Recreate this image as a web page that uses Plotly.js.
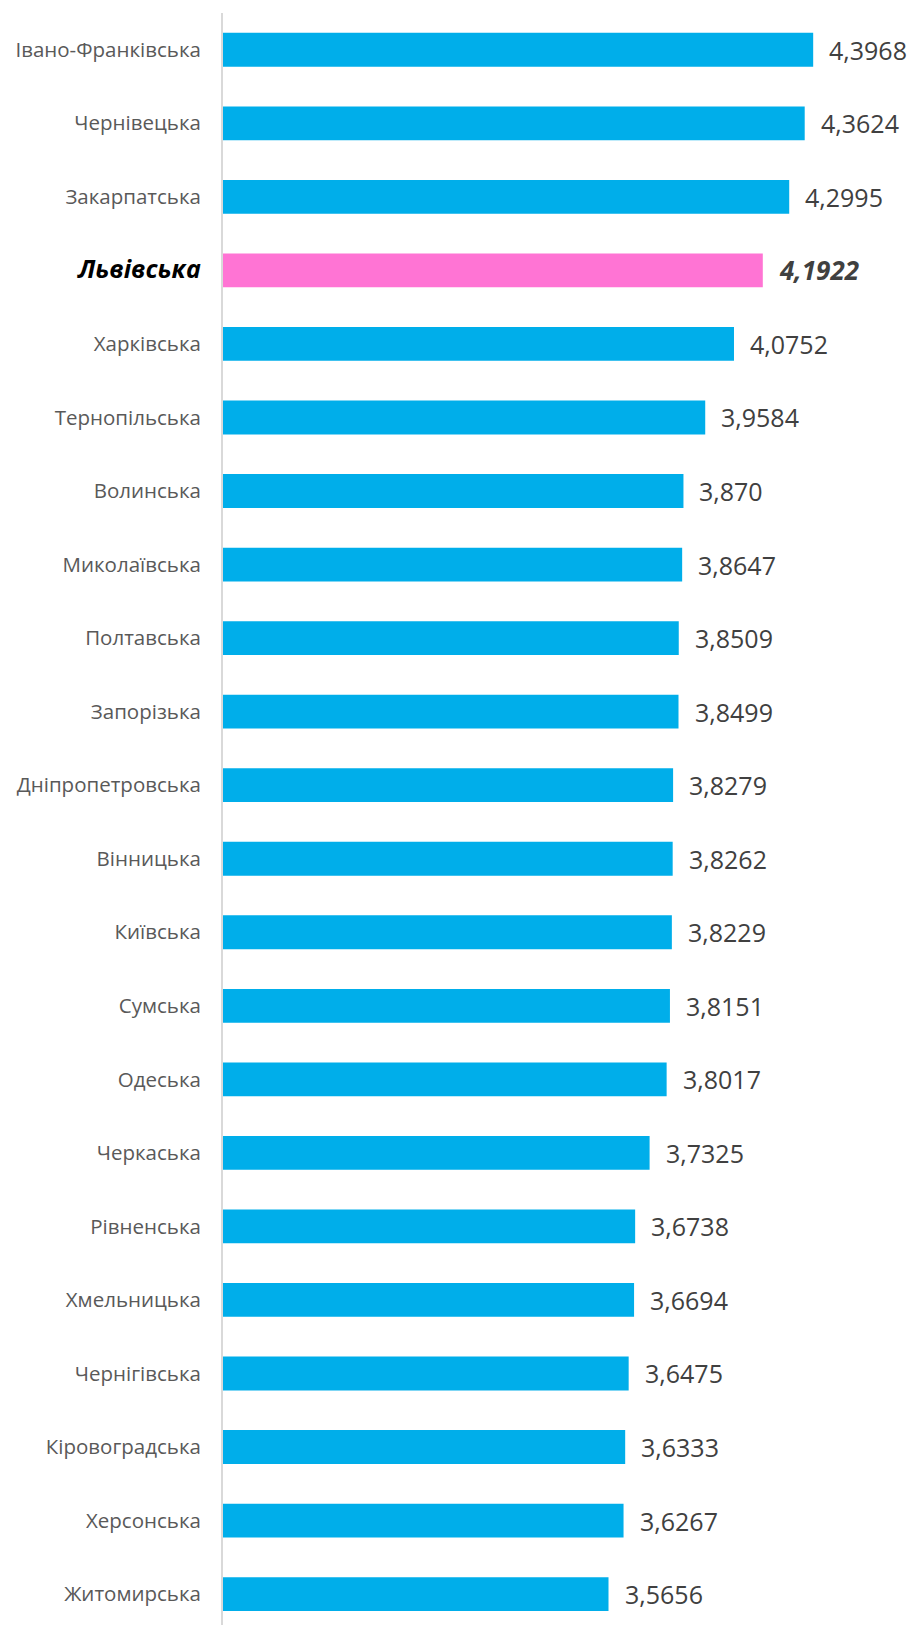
<!DOCTYPE html>
<html>
<head>
<meta charset="utf-8">
<script src="https://cdn.plot.ly/plotly-3.0.1.min.js"></script>
<style>
html,body{margin:0;padding:0;background:#fff;}
#chart{width:910px;height:1625px;}
</style>
</head>
<body>
<div id="chart"></div>
<script>
const regions = ["Івано-Франківська","Чернівецька","Закарпатська","Львівська","Харківська","Тернопільська","Волинська","Миколаївська","Полтавська","Запорізька","Дніпропетровська","Вінницька","Київська","Сумська","Одеська","Черкаська","Рівненська","Хмельницька","Чернігівська","Кіровоградська","Херсонська","Житомирська"];
const values = [4.3968,4.3624,4.2995,4.1922,4.0752,3.9584,3.870,3.8647,3.8509,3.8499,3.8279,3.8262,3.8229,3.8151,3.8017,3.7325,3.6738,3.6694,3.6475,3.6333,3.6267,3.5656];
const valueLabels = ["4,3968","4,3624","4,2995","4,1922","4,0752","3,9584","3,870","3,8647","3,8509","3,8499","3,8279","3,8262","3,8229","3,8151","3,8017","3,7325","3,6738","3,6694","3,6475","3,6333","3,6267","3,5656"];
const highlight = "Львівська";

const BLUE = "#00AEEA", PINK = "#FF74D4";
const colors = regions.map(r => r === highlight ? PINK : BLUE);
const ticktext = regions.map(r => r === highlight
  ? '<span style="color:#000000;font-size:25px"><b><i>' + r + '</i></b></span>' : r);

const trace = {
  type: "bar",
  orientation: "h",
  y: regions,
  x: values,
  base: 0,
  marker: {color: colors},
  hoverinfo: "none"
};

const annotations = regions.map((r, i) => ({
  x: values[i], y: r, xref: "x", yref: "y",
  text: r === highlight ? "<b><i>" + valueLabels[i] + "</i></b>" : valueLabels[i],
  showarrow: false, xanchor: "left", xshift: 14,
  font: {family: "Open Sans", size: r === highlight ? 26 : 25, color: "#404040"}
}));

const layout = {
  width: 910, height: 1625,
  margin: {l: 223, r: 0, t: 13, b: 0},
  paper_bgcolor: "#ffffff", plot_bgcolor: "#ffffff",
  showlegend: false,
  bargap: 0.54,
  xaxis: {range: [2, 4.79], visible: false, fixedrange: true},
  yaxis: {
    type: "category",
    range: [21.42, -0.5],
    tickvals: regions, ticktext: ticktext,
    showline: true, linecolor: "#D9D9D9", linewidth: 2,
    showgrid: false, zeroline: false, ticks: "",
    ticklabelstandoff: 16,
    tickfont: {family: "Open Sans", size: 20.5, color: "#595959"},
    fixedrange: true
  },
  annotations: annotations
};

Plotly.newPlot("chart", [trace], layout, {displayModeBar: false, staticPlot: true});
</script>
</body>
</html>
